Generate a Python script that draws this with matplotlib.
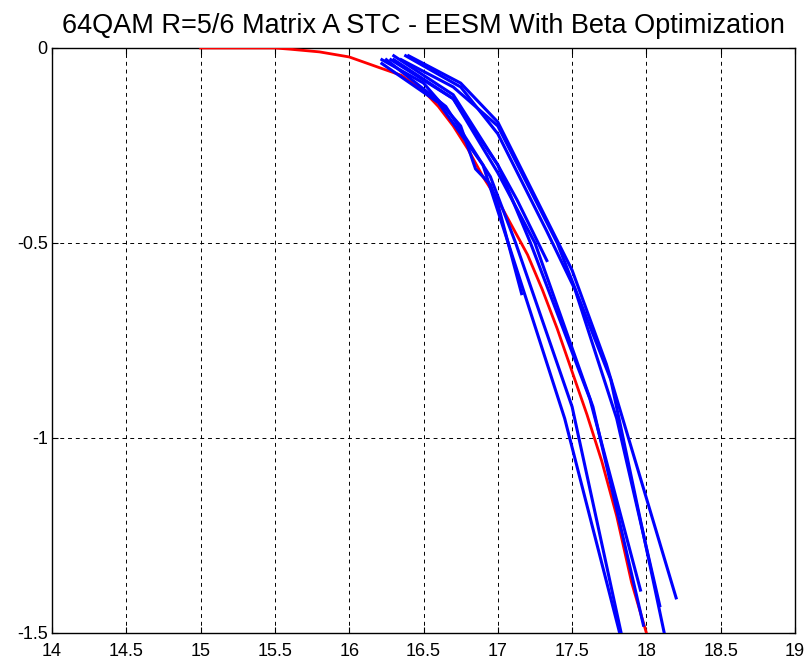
import numpy as np
import matplotlib
matplotlib.use("Agg")
import matplotlib.pyplot as plt

plt.rcParams['font.family'] = ['Liberation Sans', 'DejaVu Sans']

title = '64QAM R=5/6 Matrix A STC - EESM With Beta Optimization'

# simulated curve (red)
sim_x = [15.0, 15.5, 15.6, 15.8, 16.0, 16.2, 16.35, 16.5, 16.6, 16.7, 16.8,
         16.9, 17.0, 17.1, 17.2, 17.3, 17.4, 17.5, 17.6, 17.7, 17.8, 17.9, 18.0]
sim_y = [0.0, 0.0, -0.003, -0.01, -0.023, -0.05, -0.07, -0.11, -0.15, -0.2, -0.26,
         -0.33, -0.39, -0.46, -0.53, -0.62, -0.72, -0.83, -0.94, -1.06, -1.2, -1.37, -1.5]

# EESM predictions (blue), one per channel realisation
eesm_x = [
    [16.22, 16.5, 16.75, 16.85, 16.95, 17.0, 17.16],
    [16.3, 16.7, 17.0, 17.13, 17.33],
    [16.22, 16.6, 16.9, 17.07, 17.45, 17.82],
    [16.25, 16.65, 16.95, 17.12, 17.5, 17.83],
    [16.3, 16.7, 17.0, 17.22, 17.62, 17.96],
    [16.28, 16.7, 17.0, 17.25, 17.64, 17.98],
    [16.38, 16.75, 17.0, 17.33, 17.52, 17.8, 18.09],
    [16.35, 16.7, 17.0, 17.4, 17.76, 18.12],
    [16.4, 16.75, 17.0, 17.5, 17.73, 17.84, 18.2],
]
eesm_y = [
    [-0.03, -0.09, -0.2, -0.31, -0.35, -0.4, -0.63],
    [-0.03, -0.13, -0.3, -0.39, -0.545],
    [-0.04, -0.14, -0.3, -0.5, -0.95, -1.5],
    [-0.03, -0.15, -0.33, -0.5, -0.92, -1.5],
    [-0.02, -0.12, -0.3, -0.5, -0.9, -1.39],
    [-0.03, -0.13, -0.32, -0.5, -0.92, -1.48],
    [-0.02, -0.1, -0.22, -0.47, -0.62, -0.95, -1.43],
    [-0.03, -0.1, -0.2, -0.5, -0.85, -1.5],
    [-0.02, -0.09, -0.19, -0.57, -0.81, -0.95, -1.41],
]

fig = plt.figure(figsize=(8.09, 6.61), dpi=100)
ax = fig.add_axes([0.0643, 0.0424, 0.9184, 0.885])

ax.plot(sim_x, sim_y, color='red', lw=2.0, zorder=3)
for xs, ys in zip(eesm_x, eesm_y):
    ax.plot(xs, ys, color='blue', lw=2.2, zorder=4)

ax.set_xlim(14, 19)
ax.set_ylim(-1.5, 0)
ax.set_xticks(np.arange(14, 19.01, 0.5))
ax.set_xticklabels(['14', '14.5', '15', '15.5', '16', '16.5', '17', '17.5', '18', '18.5', '19'])
ax.set_yticks([-1.5, -1, -0.5, 0])
ax.set_yticklabels(['-1.5', '-1', '-0.5', '0'])
ax.grid(True, color='black', linestyle=(0, (4, 4)), linewidth=0.7)
ax.tick_params(direction='in', labelsize=13, length=4, top=True, right=True)
ax.tick_params(axis='x', pad=7)
ax.tick_params(axis='y', pad=3)
for s in ax.spines.values():
    s.set_linewidth(1.0)
ax.set_title(title, fontsize=19.5, pad=11)

fig.savefig('out.png', dpi=100)
